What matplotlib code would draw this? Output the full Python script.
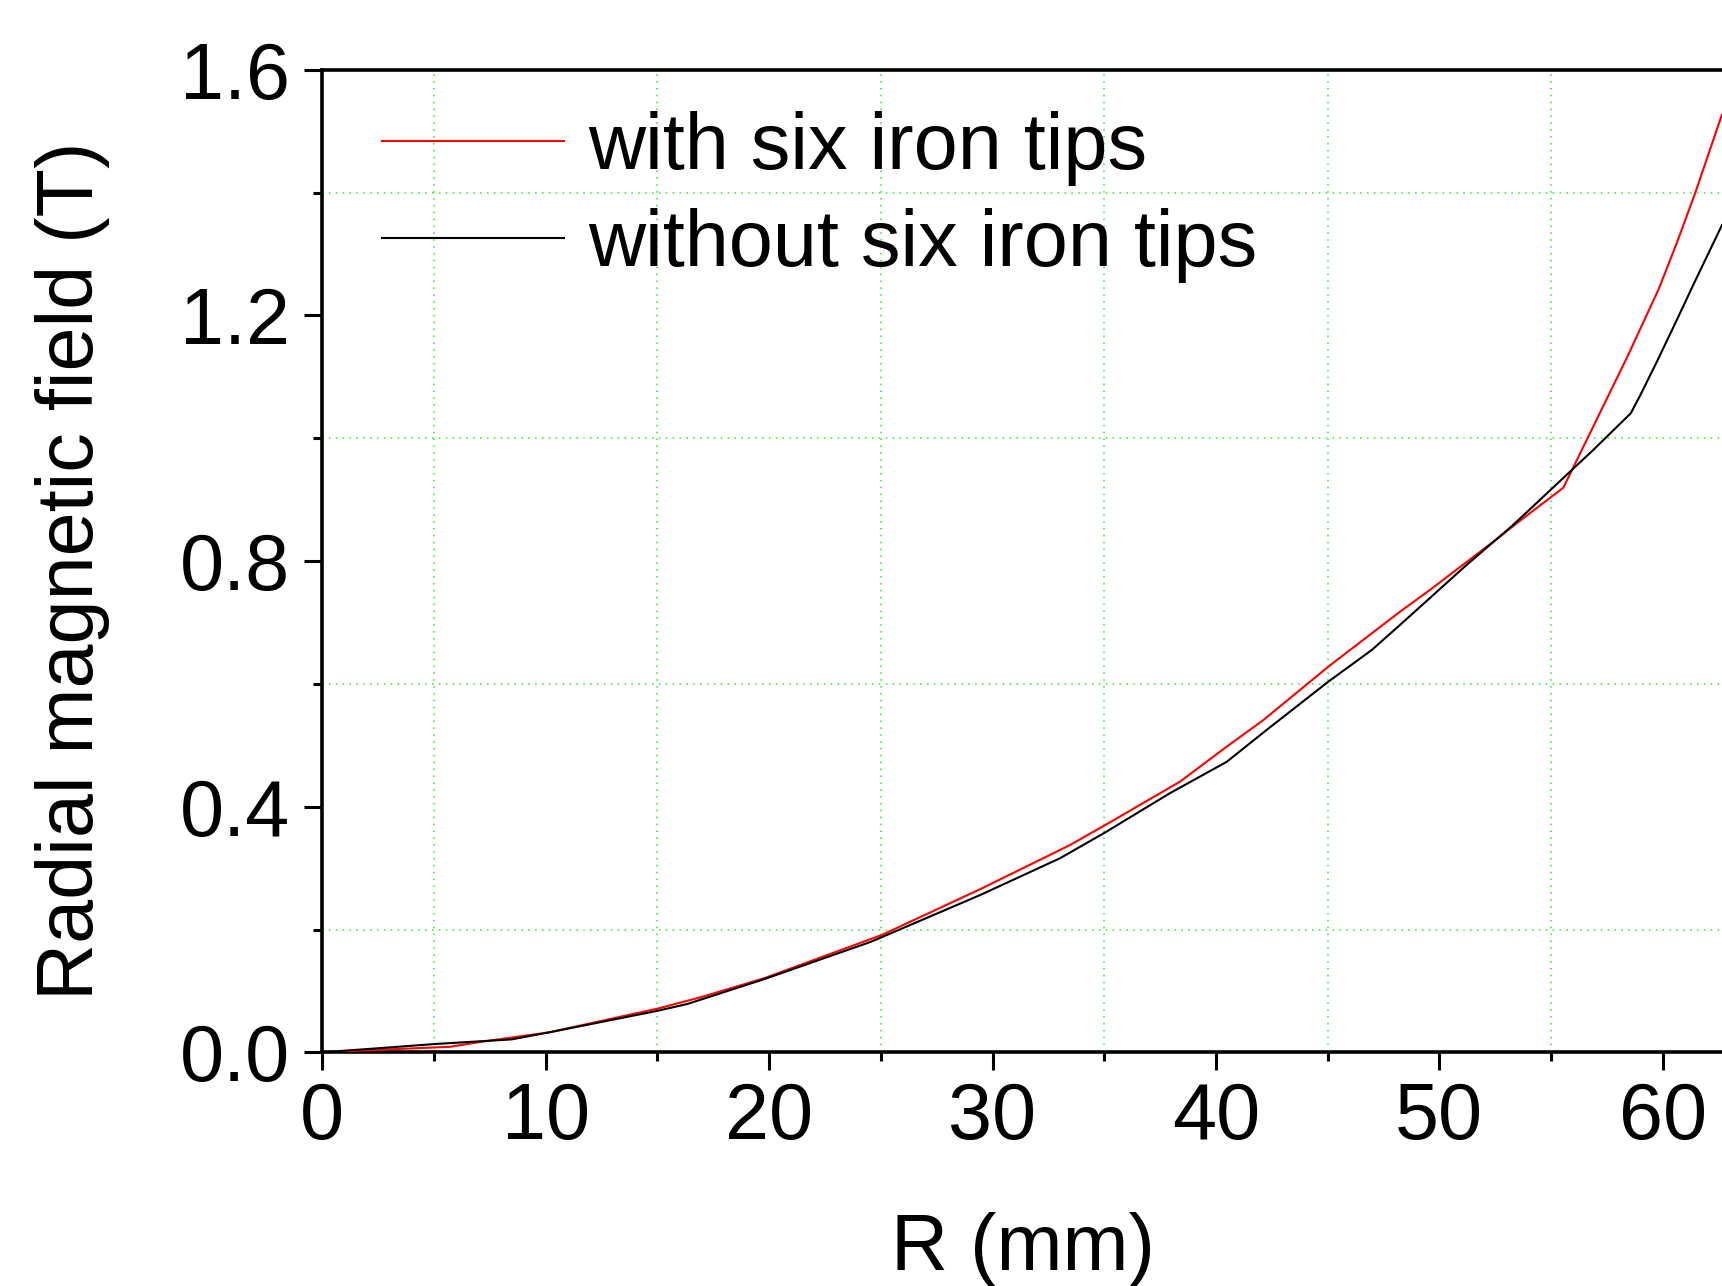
import matplotlib
matplotlib.use("Agg")
import matplotlib.pyplot as plt
from matplotlib.ticker import MultipleLocator, FormatStrFormatter

# Data
r_with = [0, 2.5, 5.72, 7.09, 10.17, 15.06, 17.03, 19.77, 25.04, 29.44, 33.47, 35.04,
          38.39, 40.48, 42.12, 45.03, 48.24, 49.58, 52.72, 53.46, 55.55, 56.89, 58.42,
          59.82, 60.63, 61.44, 62.65]
b_with = [0, 0.004, 0.009, 0.017, 0.0326, 0.0716, 0.0906, 0.1205, 0.191, 0.2655, 0.3376,
          0.370, 0.4407, 0.4977, 0.541, 0.628, 0.7176, 0.753, 0.840, 0.8615, 0.9195, 1.019,
          1.133, 1.243, 1.318, 1.398, 1.527]

r_without = [0, 2.47, 5.04, 8.47, 10.17, 15.06, 16.34, 19.77, 24.56, 29.44, 33.02, 35.04,
             37.94, 40.48, 42.27, 45.03, 46.97, 48.24, 51.22, 53.31, 55.1, 56.89, 58.57,
             58.98, 59.73, 60.63, 61.37, 62.65]
b_without = [0, 0.0065, 0.0135, 0.021, 0.0326, 0.068, 0.0787, 0.119, 0.180, 0.256, 0.316,
             0.358, 0.422, 0.473, 0.525, 0.6036, 0.655, 0.696, 0.7937, 0.859, 0.920, 0.981,
             1.0407, 1.069, 1.124, 1.1926, 1.250, 1.347]

labels = ["with six iron tips", "without six iron tips"]
xlabel = "R (mm)"
ylabel = "Radial magnetic field (T)"

plt.rcParams['font.family'] = ['Liberation Sans', 'DejaVu Sans']

W, H = 1722, 1286
fig = plt.figure(figsize=(W / 100, H / 100), dpi=100)
x0_px, y0_px = 322.3, 1052.3
ux, uy = 22.34, 614.0
xmax = 62.7
ax_w = xmax * ux
ax = fig.add_axes([x0_px / W, (H - y0_px) / H, ax_w / W, 1.6 * uy / H])

ax.plot(r_with, b_with, color='#ff0000', lw=1.5, label=labels[0], zorder=3)
ax.plot(r_without, b_without, color='black', lw=1.5, label=labels[1], zorder=3)

ax.set_xlim(0, xmax)
ax.set_ylim(0, 1.6)
ax.xaxis.set_major_locator(MultipleLocator(10))
ax.xaxis.set_minor_locator(MultipleLocator(5))
ax.yaxis.set_major_locator(MultipleLocator(0.4))
ax.yaxis.set_minor_locator(MultipleLocator(0.2))
ax.yaxis.set_major_formatter(FormatStrFormatter('%.1f'))

ax.grid(which='minor', color='#22ee22', linestyle=(0, (1, 3.5)), linewidth=1.1)
ax.grid(which='major', visible=False)
ax.set_axisbelow(True)

for s in ['left', 'bottom', 'top']:
    ax.spines[s].set_linewidth(2.6)
ax.spines['right'].set_visible(False)

FS = 57
ax.tick_params(which='major', direction='out', length=13, width=2.2,
               labelsize=FS, pad=8)
ax.tick_params(which='minor', direction='out', length=6.5, width=2.2)
ax.tick_params(axis='y', which='major', pad=10)

ax.set_xlabel(xlabel, fontsize=FS, labelpad=40)
ax.set_ylabel(ylabel, fontsize=FS)
ax.yaxis.set_label_coords((110 - x0_px) / ax_w, (y0_px - 571) / (1.6 * uy))

leg = ax.legend(loc='upper left', bbox_to_anchor=((382 - x0_px) / ax_w, 0.958),
                frameon=False, fontsize=FS, handlelength=2.3, handletextpad=0.3,
                labelspacing=0.27, borderaxespad=0.0, borderpad=0.0)
for line in leg.get_lines():
    line.set_linewidth(1.5)

fig.savefig("out.png", dpi=100)
